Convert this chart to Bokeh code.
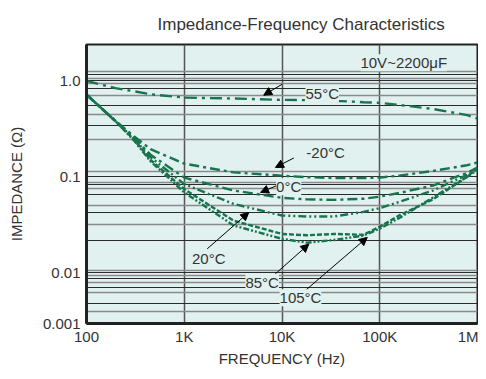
from bokeh.plotting import figure
from bokeh.models import Range1d, FixedTicker, Grid, Label, Arrow, NormalHead
from bokeh.embed import file_html
from bokeh.resources import INLINE

# ---- data ----
freq = [100, 198, 305, 452, 1000, 3200, 10000, 18000, 34000, 68000,
        100000, 162000, 350000, 785000, 1000000]
z_55 = [1.0, 0.84, 0.78, 0.726, 0.67, 0.655, 0.634, 0.63, 0.62, 0.60,
        0.59, 0.56, 0.51, 0.44, 0.405]
z_m20 = [0.72, 0.383, 0.265, 0.194, 0.137, 0.111, 0.1026, 0.099, 0.097, 0.097,
         0.098, 0.103, 0.115, 0.132, 0.141]
z_0 = [0.72, 0.38, 0.255, 0.17, 0.098, 0.0718, 0.0602, 0.058, 0.0574, 0.059,
       0.062, 0.068, 0.081, 0.11, 0.125]
z_20 = [0.72, 0.38, 0.25, 0.16, 0.0838, 0.052, 0.0394, 0.0385, 0.0385, 0.043,
        0.047, 0.055, 0.0718, 0.105, 0.12]
z_85 = [0.72, 0.38, 0.24, 0.145, 0.0686, 0.031, 0.0225, 0.0205, 0.0219, 0.0243,
        0.0287, 0.0376, 0.0607, 0.1, 0.118]
z_105 = [0.72, 0.38, 0.245, 0.15, 0.0743, 0.0348, 0.0253, 0.0245, 0.0253, 0.0248,
         0.030, 0.040, 0.058, 0.1, 0.125]

x_ticks = [100, 1000, 10000, 100000, 1000000]
x_tick_labels = ["100", "1K", "10K", "100K", "1M"]
y_ticks = [0.00294, 0.01, 0.1, 1.0]
y_tick_labels = ["0.001", "0.01", "0.1", "1.0"]

grid_dark = [1.155, 1.0, 0.825, 0.556, 0.344, 0.1, 0.0826, 0.0649, 0.0422,
             0.0218, 0.01, 0.00866, 0.00698, 0.00481]
grid_grey = [1.241, 1.062, 0.931, 0.706, 0.442, 0.243, 0.1128, 0.0876, 0.075,
             0.0505, 0.0316, 0.0105, 0.0093, 0.00796, 0.00626, 0.00397]

title_text = "Impedance-Frequency Characteristics"

# labels: text, freq, impedance
label_text = ["55°C", "-20°C", "0°C", "20°C", "85°C", "105°C", "10V~2200μF"]
label_f = [25800, 27900, 11700, 1780, 6270, 15450, 176000]
label_z = [0.737, 0.177, 0.0787, 0.0139, 0.00792, 0.00545, 1.55]

# arrows: tail (f, z) -> tip (f, z)
arr_f0 = [10050, 13200, 8790, 1718, 8240, 17400]
arr_z0 = [0.924, 0.157, 0.0806, 0.0177, 0.00937, 0.00652]
arr_f1 = [6500, 8570, 6030, 4575, 18800, 74500]
arr_z1 = [0.71, 0.125, 0.0686, 0.0424, 0.0198, 0.0233]

BG = "#e1f1ef"
GREEN = "#18744d"
FONT = "Liberation Sans"

p = figure(frame_width=391, frame_height=279, x_axis_type="log", y_axis_type="log",
           x_range=Range1d(100, 1000000), y_range=Range1d(0.00294, 2.40),
           output_backend="svg", toolbar_location=None,
           min_border_left=86, min_border_right=1, min_border_top=44,
           min_border_bottom=40)
p.background_fill_color = BG
p.border_fill_color = "white"
p.outline_line_color = "#222222"
p.outline_line_width = 2

p.title.text = title_text
p.title.text_font = FONT
p.title.text_font_size = "17px"
p.title.text_font_style = "normal"
p.title.text_color = "#333333"
p.title.align = "left"
p.title.offset = 71
p.title.standoff = 21

# axes
p.xaxis.ticker = FixedTicker(ticks=x_ticks)
p.xaxis.major_label_overrides = dict(zip(x_ticks, x_tick_labels))
p.yaxis.ticker = FixedTicker(ticks=y_ticks)
p.yaxis.major_label_overrides = dict(zip(y_ticks, y_tick_labels))
p.xaxis.axis_label = "FREQUENCY (Hz)"
p.yaxis.axis_label = "IMPEDANCE (Ω)"
for ax in (p.xaxis, p.yaxis):
    ax.axis_line_color = "#222222"
    ax.axis_line_width = 3
    ax.major_tick_line_color = None
    ax.minor_tick_line_color = None
    ax.major_tick_out = 0
    ax.major_tick_in = 0
    ax.minor_tick_out = 0
    ax.minor_tick_in = 0
    ax.major_label_text_font = FONT
    ax.major_label_text_font_size = "15px"
    ax.major_label_text_color = "#333333"
    ax.axis_label_text_font = FONT
    ax.axis_label_text_font_size = "15px"
    ax.axis_label_text_font_style = "normal"
    ax.axis_label_text_color = "#333333"
p.xaxis.major_label_standoff = 4
p.xaxis.axis_label_standoff = 2
p.yaxis.major_label_standoff = 6
p.yaxis.axis_label_standoff = 15

# grids
p.xgrid.ticker = FixedTicker(ticks=x_ticks[1:-1])
p.xgrid.grid_line_color = "#555555"
p.xgrid.grid_line_width = 1.5
p.ygrid.grid_line_color = None
p.add_layout(Grid(dimension=1, ticker=FixedTicker(ticks=grid_grey),
                  grid_line_color="#8a8a8a", grid_line_width=1.5))
p.add_layout(Grid(dimension=1, ticker=FixedTicker(ticks=grid_dark),
                  grid_line_color="#2b2b2b", grid_line_width=1.2))

# curves
series = [
    (z_55, "12 5 3 5"),
    (z_m20, "10 4 3 4"),
    (z_0, "10 4 3 4"),
    (z_20, "8 3 2 3 2 3"),
    (z_85, "6 2 2 2 2 2"),
    (z_105, "5 2"),
]
for z, dash in series:
    p.line(freq, z, line_color=GREEN, line_width=2.4, line_dash=dash)

# arrows
for fa, za, fb, zb in zip(arr_f0, arr_z0, arr_f1, arr_z1):
    p.add_layout(Arrow(end=NormalHead(size=8, fill_color="black", line_color="black"),
                       x_start=fa, y_start=za, x_end=fb, y_end=zb,
                       line_color="black", line_width=1))

# labels
for t, f, z in zip(label_text, label_f, label_z):
    p.add_layout(Label(x=f, y=z, text=t, text_align="center", text_baseline="middle",
                       text_font=FONT, text_font_size="15px", text_color="#333333",
                       background_fill_color=BG))

open("out.html", "w").write(file_html(p, INLINE))
